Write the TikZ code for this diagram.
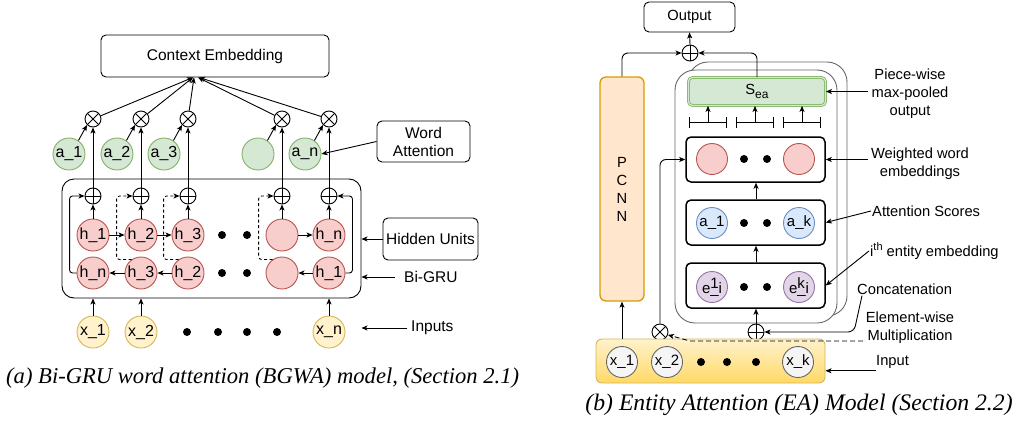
\documentclass[tikz,border=0pt]{standalone}
\usepackage{fontspec}
\setmainfont{Liberation Sans}
\newfontfamily\capserif{Liberation Serif}
\usetikzlibrary{arrows.meta,calc}

\definecolor{pinkF}{HTML}{F8CECC}\definecolor{pinkD}{HTML}{B85450}
\definecolor{greenF}{HTML}{D5E8D4}\definecolor{greenD}{HTML}{82B366}
\definecolor{yelF}{HTML}{FFF2CC}\definecolor{yelD}{HTML}{D6B656}\definecolor{yelB}{HTML}{FFD966}
\definecolor{blueF}{HTML}{DAE8FC}\definecolor{blueD}{HTML}{6C8EBF}
\definecolor{purF}{HTML}{E1D5E7}\definecolor{purD}{HTML}{9673A6}
\definecolor{orF}{HTML}{FFE6CC}\definecolor{orD}{HTML}{D79B00}
\definecolor{grayF}{HTML}{F5F5F5}\definecolor{grayD}{HTML}{666666}

\tikzset{
  ltxt/.style={font=\fontsize{15.5}{18}\selectfont},
  rtxt/.style={font=\fontsize{14.7}{18}\selectfont},
  box/.style={draw, rounded corners=5pt, line width=0.9pt, inner sep=0pt},
  thickbox/.style={draw, rounded corners=5pt, line width=1.5pt, inner sep=0pt},
  unit/.style={circle, draw, line width=0.9pt, minimum size=32pt, inner sep=0pt, font=\fontsize{16}{16}\selectfont},
  runit/.style={circle, draw, line width=0.9pt, minimum size=31pt, inner sep=0pt, font=\fontsize{15}{15}\selectfont},
  pinkc/.style={unit, fill=pinkF, draw=pinkD},
  greenc/.style={unit, fill=greenF, draw=greenD},
  yelc/.style={unit, fill=yelF, draw=yelD},
  rpink/.style={runit, fill=pinkF, draw=pinkD},
  rblue/.style={runit, fill=blueF, draw=blueD},
  rpur/.style={runit, fill=purF, draw=purD},
  rgray/.style={runit, fill=grayF, draw=grayD},
  dotc/.style={circle, fill=black, minimum size=8pt, inner sep=0pt},
  oplus/.style={circle, draw, line width=0.9pt, minimum size=16pt, inner sep=0pt,
    path picture={\draw[line width=0.9pt] (path picture bounding box.north) -- (path picture bounding box.south)
      (path picture bounding box.west) -- (path picture bounding box.east);}},
  otimes/.style={circle, draw, line width=0.9pt, minimum size=16pt, inner sep=0pt,
    path picture={\draw[line width=0.9pt] (path picture bounding box.north west) -- (path picture bounding box.south east)
      (path picture bounding box.north east) -- (path picture bounding box.south west);}},
  arr/.style={-{Stealth[length=6pt,width=5pt,inset=1.5pt]}, line width=0.9pt},
  dashln/.style={dash pattern=on 3pt off 2.5pt},
  caption/.style={font=\capserif\itshape\fontsize{23.7}{26}\selectfont, inner sep=0pt},
  stack/.style={draw=black!60, line width=0.9pt, rounded corners=20pt, fill=white, inner sep=0pt},
}

\begin{document}
\begin{tikzpicture}[x=1pt,y=-1pt]
\useasboundingbox (0,0) rectangle (1019,423);

% ---------------- (a) Bi-GRU word attention ----------------
\node[box, minimum width=228pt, minimum height=42pt, ltxt] (ctx) at (215,56) {Context Embedding};
\node[box, minimum width=93pt, minimum height=41pt, align=center, ltxt] (wa) at (423.5,141.5) {Word\\Attention};
\node[box, rounded corners=12pt, minimum width=299pt, minimum height=119pt] (gru) at (211.5,238.5) {};
\node[box, minimum width=95pt, minimum height=42pt, ltxt] (hid) at (430.5,239) {Hidden Units};

\foreach \i/\x in {1/93,2/141,3/188,4/282,5/329}{
  \node[otimes] (o\i) at (\x,119) {};
  \node[oplus] (p\i) at (\x,196) {};
}
\node[greenc] (a1) at (69,154) {a\_1};
\node[greenc] (a2) at (117,154) {a\_2};
\node[greenc] (a3) at (164,154) {a\_3};
\node[greenc] (a4) at (258,154) {};
\node[greenc] (an) at (305,154) {a\_n};

\node[pinkc] (ht1) at (93,235) {h\_1};
\node[pinkc] (ht2) at (141,235) {h\_2};
\node[pinkc] (ht3) at (188,235) {h\_3};
\node[pinkc] (ht4) at (282,235) {};
\node[pinkc] (ht5) at (329,235) {h\_n};
\node[pinkc] (hb1) at (93,273) {h\_n};
\node[pinkc] (hb2) at (141,273) {h\_3};
\node[pinkc] (hb3) at (188,273) {h\_2};
\node[pinkc] (hb4) at (282,273) {};
\node[pinkc] (hb5) at (329,273) {h\_1};
\foreach \x in {222,247}{
  \node[dotc] at (\x,235) {};
  \node[dotc] at (\x,273) {};
}

\node[yelc] (x1) at (93,332) {x\_1};
\node[yelc] (x2) at (141,332) {x\_2};
\node[yelc] (xn) at (329,332) {x\_n};
\foreach \x in {187,218,247,277}{ \node[dotc] at (\x,332) {}; }

\node[anchor=west, inner sep=0pt, ltxt] (bg) at (404,277) {Bi-GRU};
\node[anchor=west, inner sep=0pt, ltxt] (inl) at (411,328) {Inputs};

% attention weights into the products
\foreach \i in {1,2,3,4}{ \draw[arr] (a\i.55) -- (o\i.225); }
\draw[arr] (an.55) -- (o5.225);
% sums up to products
\foreach \i in {1,...,5}{ \draw[arr] (p\i.north) -- (o\i.south); }
% products into the context embedding
\draw[arr] (o1) -- ($(ctx.south)+(-22,0)$);
\draw[arr] (o2) -- ($(ctx.south)+(-22,0)$);
\draw[arr] (o3) -- ($(ctx.south)+(-21,0)$);
\draw[arr] (o4) -- ($(ctx.south)+(-17,0)$);
\draw[arr] (o5) -- ($(ctx.south)+(-16,0)$);
\draw[arr] (wa.west) -- (an.east);

% forward hidden units into the sums
\foreach \i in {1,...,5}{ \draw[arr] (ht\i.north) -- (p\i.south); }
\draw[arr] (ht1) -- (ht2);
\draw[arr] (ht2) -- (ht3);
\draw[arr] (ht4) -- (ht5);
\draw[arr] (hb2) -- (hb1);
\draw[arr] (hb3) -- (hb2);
\draw[arr] (hb5) -- (hb4);
% backward hidden units into the sums
\draw[arr, rounded corners=3pt] (hb1.west) -- ++(-7,0) |- (p1.west);
\draw[arr, rounded corners=3pt] (hb5.east) -- ++(7,0) |- (p5.east);
\draw[arr, dashln, rounded corners=3pt] (hb2.125) -- ++(-15,0) |- (p2.west);
\draw[arr, dashln, rounded corners=3pt] (hb3.125) -- ++(-15,0) |- (p3.west);
\draw[arr, dashln, rounded corners=3pt] (hb4.125) -- ++(-14,0) |- (p4.west);

% inputs
\draw[arr] (x1.north) -- (x1 |- gru.south);
\draw[arr] (x2.north) -- (x2 |- gru.south);
\draw[arr] (xn.north) -- (xn |- gru.south);
\draw[arr] (hid.west) -- (hid.west -| gru.east);
\draw[arr] ([xshift=-9pt]bg.west) -- (bg.west -| gru.east);
\draw[arr] ([xshift=-4pt]inl.west) -- (inl.west -| gru.east);

\node[caption, font=\capserif\itshape\fontsize{22.6}{26}\selectfont, anchor=west] (capa) at (6,378)
  {(a) Bi-GRU word attention (BGWA) model, (Section 2.1)};

% ---------------- (b) Entity attention ----------------
\node[stack, minimum width=159pt, minimum height=254pt] (contB) at (767.5,189) {};
\node[stack, minimum width=162pt, minimum height=253pt] (contA) at (756,196.5) {};

\node[box, minimum width=91pt, minimum height=30pt, rtxt] (out) at (689.5,17) {Output};
\node[oplus] (opR) at (690,53) {};
\node[draw=orD, fill=orF, line width=1.3pt, rounded corners=6pt, minimum width=44pt, minimum height=224pt,
      inner sep=0pt, align=center, rtxt] (pcnn) at (622,189) {P\\C\\N\\N};

\node[draw=greenD, double=greenF, double distance=1.2pt, line width=0.8pt, fill=greenF, rounded corners=4pt,
      minimum width=137pt, minimum height=28pt, inner sep=0pt, rtxt] (sea) at (757,91.5)
      {S\raisebox{-4pt}{\fontsize{12}{12}\selectfont ea}};

\node[thickbox, minimum width=139pt, minimum height=45pt] (wwe) at (755.5,159.5) {};
\node[thickbox, minimum width=139pt, minimum height=45pt] (att) at (755.5,222.5) {};
\node[thickbox, minimum width=139pt, minimum height=45pt] (ent) at (755.5,285.5) {};

\node[rpink] (w1) at (712,159) {};
\node[rpink] (wk) at (799,159) {};
\node[rblue] (s1) at (712,223) {a\_1};
\node[rblue] (sk) at (799,223) {a\_k};
\node[rpur] (e1) at (712,287) {e\rlap{\raisebox{5pt}{1}}\_i};
\node[rpur] (ek) at (799,287) {e\rlap{\raisebox{5pt}{k}}\_i};
\foreach \y in {159,223,287}{
  \node[dotc] at (744,\y) {};
  \node[dotc] at (767,\y) {};
}

\node[oplus] (op2) at (756,332) {};
\node[otimes] (ot) at (660,332) {};

\node[draw=yelD, top color=yelF, bottom color=yelB, line width=0.9pt, rounded corners=6pt,
      minimum width=229pt, minimum height=44pt, inner sep=0pt] (inp) at (710.5,361) {};
\node[rgray] (r1) at (622,362) {x\_1};
\node[rgray] (r2) at (667,362) {x\_2};
\node[rgray] (rk) at (798,362) {x\_k};
\foreach \x in {701,727,756}{ \node[dotc] at (\x,362) {}; }

% pooling brackets under S_ea
\foreach \i/\x in {1/708,2/755,3/802}{
  \coordinate (b\i) at (\x,122);
  \draw[{Bar[width=11pt]}-{Bar[width=11pt]}, line width=0.9pt] ($(b\i)+(-19,0)$) -- ($(b\i)+(19,0)$);
  \draw[arr] (b\i) -- (b\i |- sea.south);
}

% labels
\node[rtxt, align=center, inner sep=3pt] (pw) at (910,94) {Piece-wise\\max-pooled\\output};
\node[rtxt, align=center, inner sep=3pt] (ww) at (920,164) {Weighted word\\embeddings};
\node[rtxt, anchor=west, inner sep=1pt] (asl) at (871,211) {Attention Scores};
\node[rtxt, anchor=west, inner sep=1pt] (iel) at (869,251) {i\raisebox{6pt}{\fontsize{11}{11}\selectfont th} entity embedding};
\node[rtxt, anchor=west, inner sep=0pt] (ccl) at (857,289) {Concatenation};
\node[rtxt, align=center, inner sep=0pt] (eml) at (910,328) {Element-wise\\Multiplication};
\node[rtxt, anchor=west, inner sep=0pt] (inpl) at (876,362) {Input};

% flow
\draw[arr] (opR.north) -- (out.south);
\draw[arr, rounded corners=6pt] (pcnn.north) |- (opR.west);
\draw[arr, rounded corners=6pt] (sea.north) |- (opR.east);
\draw[arr] (r1 |- inp.north) -- (pcnn.south);
\draw[arr, rounded corners=6pt] (ot.north) |- (wwe.west);
\draw[arr] (op2.north) -- (op2 |- ent.south);
\draw[arr] (op2 |- ent.north) -- (op2 |- att.south);
\draw[arr] (op2 |- att.north) -- (op2 |- wwe.south);

\draw[arr] (pw.west |- sea.east) -- (sea.east);
\draw[arr] (ww.west |- wwe.east) -- (wwe.east);
\draw[arr] (asl.west) -- (att.east);
\draw[arr] (iel.west) -- (ent.east);
\coordinate (ccbend) at (854,332);
\draw[arr, rounded corners=6pt] ([xshift=5pt,yshift=-1pt]ccl.south west) -- (ccbend) -- (op2.east);
\coordinate (mstart) at (863,341);
\coordinate (mbend) at (690,341);
\draw[arr, dashed, dash pattern=on 5pt off 3pt] (mstart) -- (mbend) -- (ot.-20);
\draw[arr] ([yshift=-2pt]inpl.south west) -- ([yshift=-2pt]inpl.south west -| inp.east);

\node[caption] (capb) at (799,405) {(b) Entity Attention (EA) Model (Section 2.2)};
\end{tikzpicture}
\end{document}
